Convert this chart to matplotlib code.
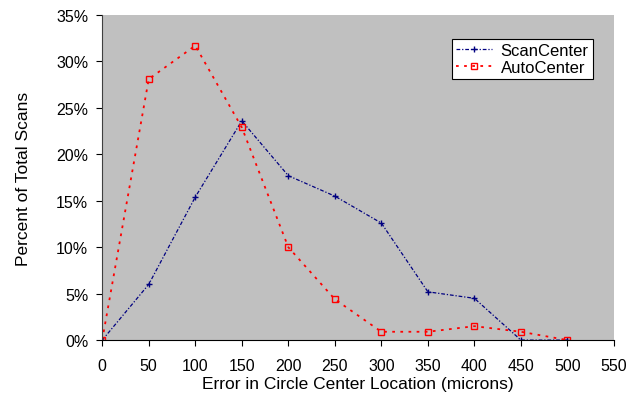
import matplotlib.pyplot as plt
import numpy as np
from matplotlib.ticker import PercentFormatter

plt.rcParams['font.family'] = ['Liberation Sans', 'DejaVu Sans']

# %% Data
error_um = [0, 50, 100, 150, 200, 250, 300, 350, 400, 450, 500]
scan_center = [0.0, 6.0, 15.4, 23.6, 17.7, 15.5, 12.6, 5.2, 4.5, 0.0, 0.0]
auto_center = [0.0, 28.1, 31.7, 22.9, 10.0, 4.4, 0.9, 0.9, 1.5, 0.9, 0.0]
x_ticks = np.arange(0, 551, 50)
y_ticks = np.arange(0, 36, 5)

# %% Plot
fig = plt.figure(figsize=(6.31, 4.10), dpi=100)
ax = fig.add_axes([0.162, 0.168, 0.811, 0.793])
ax.set_facecolor('#c0c0c0')

ax.plot(error_um, scan_center, color='#000080', linestyle=(0, (3, 1.5, 1, 1.5)), linewidth=0.9,
        marker='+', markersize=5, markeredgewidth=1, label='ScanCenter')
ax.plot(error_um, auto_center, color='#ff0000', linestyle=(0, (1.5, 3)), linewidth=1.3,
        marker='s', markersize=4.5, markerfacecolor='none', markeredgewidth=1, label='AutoCenter')

ax.set_xlim(0, 550)
ax.set_ylim(0, 35)
ax.set_xticks(x_ticks)
ax.set_yticks(y_ticks)
ax.yaxis.set_major_formatter(PercentFormatter(decimals=0))
ax.tick_params(direction='out', length=4, labelsize=11.5, pad=6)
ax.tick_params(axis='x', pad=9)

for side in ['top', 'right']:
    ax.spines[side].set_visible(False)
ax.spines['left'].set_color('#404040')
ax.spines['bottom'].set_color('#000000')

ax.set_xlabel('Error in Circle Center Location (microns)', fontsize=12.5, labelpad=2)
ax.set_ylabel('Percent of Total Scans', fontsize=12.5, labelpad=18)

leg = ax.legend(loc='upper right', bbox_to_anchor=(0.975, 0.953), fontsize=12, fancybox=False,
                framealpha=1, edgecolor='black', handlelength=2.2, borderpad=0.25,
                labelspacing=0.15, handletextpad=0.5)
leg.get_frame().set_linewidth(0.8)

plt.savefig('out.png', dpi=100)
